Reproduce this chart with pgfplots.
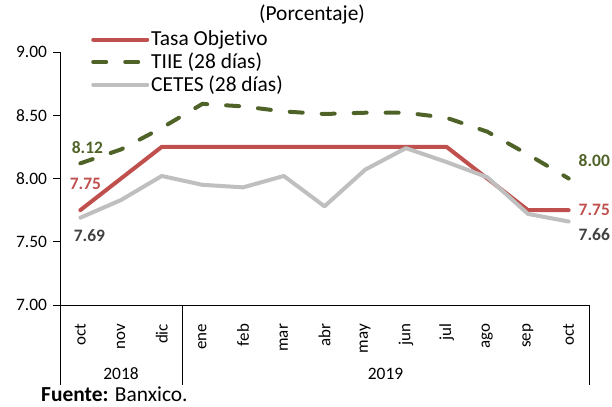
\documentclass[border=0pt]{standalone}
\usepackage{fontspec}
\setmainfont{Carlito}[Ligatures=NoCommon]
\usepackage{pgfplots}
\pgfplotsset{compat=1.18}
\definecolor{tasa}{HTML}{C0504D}
\definecolor{tiie}{HTML}{4F6228}
\definecolor{cetes}{HTML}{BFBFBF}
\definecolor{lbl}{HTML}{404040}

\pgfplotstableread{
x tasa tiie cetes
0  7.75 8.12 7.69
1  8.00 8.23 7.83
2  8.25 8.40 8.02
3  8.25 8.59 7.95
4  8.25 8.57 7.93
5  8.25 8.53 8.02
6  8.25 8.51 7.78
7  8.25 8.52 8.07
8  8.25 8.52 8.24
9  8.25 8.48 8.13
10 8.00 8.37 8.01
11 7.75 8.19 7.72
12 7.75 8.00 7.66
}\rates

\newcommand\txtfont{\fontsize{21.5}{22}\selectfont}
\newcommand\numfont{\fontsize{17.5}{20}\selectfont}
\newcommand\monfont{\fontsize{17}{20}\selectfont}

\begin{document}
\fontsize{17.5}{20}\selectfont
\begin{tikzpicture}[x=1bp,y=1bp]
\path[use as bounding box] (0,0) rectangle (612,406);
\begin{axis}[
    at={(60bp,101bp)}, anchor=south west,
    scale only axis, width=529bp, height=253bp,
    xmin=-0.5, xmax=12.5, ymin=7, ymax=9,
    axis lines*=left,
    axis line style={line width=0.9bp, black},
    clip=false,
    xtick={0,...,12},
    xticklabels={oct,nov,dic,ene,feb,mar,abr,may,jun,jul,ago,sep,oct},
    x tick label style={rotate=90, anchor=east, font=\monfont},
    xticklabel shift=6bp,
    xtick style={draw=none},
    ytick={7,7.5,8,8.5,9},
    ytick style={line width=0.9bp, black},
    tick align=outside,
    major tick length=7bp,
    yticklabel style={font=\numfont, /pgf/number format/fixed, /pgf/number format/precision=2,
        /pgf/number format/fixed zerofill, /pgf/number format/assume math mode=true},
    legend style={at={(rel axis cs:0.053,1.10)}, anchor=north west, draw=none, fill=none,
        font=\txtfont, row sep=0.5bp, /tikz/every even column/.append style={column sep=4bp}},
    legend cell align=left,
    legend image code/.code={\draw[#1] (0bp,0bp) -- (54bp,0bp);},
]
\addplot[tasa, line width=4bp, line cap=round, line join=round] table[x=x, y=tasa] {\rates};
\addlegendentry{Tasa Objetivo}
\addplot[tiie, line width=4bp, line cap=round, line join=round, dash pattern=on 13bp off 19bp] table[x=x, y=tiie] {\rates};
\addlegendentry{TIIE (28 días)}
\addplot[cetes, line width=4bp, line cap=round, line join=round] table[x=x, y=cetes] {\rates};
\addlegendentry{CETES (28 días)}
% y axis line and year group separators below the axis
\draw[black, line width=0.9bp] (rel axis cs:0,0) -- (rel axis cs:0,1);
\draw[black, line width=0.9bp] (axis cs:-0.5,7) -- ([yshift=-80bp]axis cs:-0.5,7);
\draw[black, line width=0.9bp] (axis cs:2.5,7) -- ([yshift=-80bp]axis cs:2.5,7);
\draw[black, line width=0.9bp] (axis cs:12.5,7) -- ([yshift=-80bp]axis cs:12.5,7);
\node[tiie, font=\numfont\bfseries] at (axis cs:0,8.12) [xshift=7bp, yshift=16bp] {8.12};
\node[tasa, font=\numfont\bfseries] at (axis cs:0,7.75) [xshift=5bp, yshift=26bp] {7.75};
\node[lbl, font=\numfont\bfseries] at (axis cs:0,7.69) [xshift=9bp, yshift=-18bp] {7.69};
\node[tiie, font=\numfont\bfseries, anchor=west] at (axis cs:12,8.00) [xshift=4bp, yshift=18bp] {8.00};
\node[tasa, font=\numfont\bfseries, anchor=west] at (axis cs:12,7.75) [xshift=4bp] {7.75};
\node[lbl, font=\numfont\bfseries, anchor=west] at (axis cs:12,7.66) [xshift=4bp, yshift=-13bp] {7.66};
\node[font=\numfont] at (axis cs:1,7) [yshift=-69bp] {2018};
\node[font=\numfont] at (axis cs:7.5,7) [yshift=-69bp] {2019};
\end{axis}
\node[font=\txtfont] at (312,391) {(Porcentaje)};
\node[anchor=base west, font=\txtfont, inner sep=0pt] at (41,4.5) {\textbf{Fuente:} Banxico.};
\end{tikzpicture}
\end{document}
